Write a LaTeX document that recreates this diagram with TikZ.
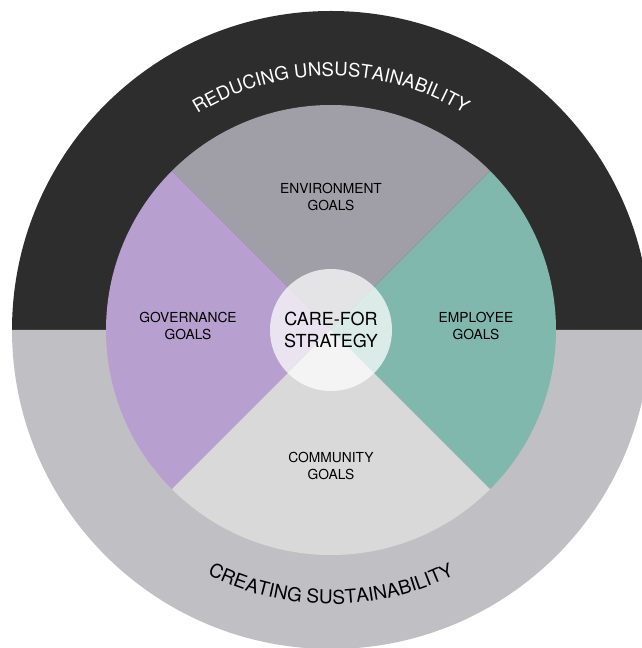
\documentclass[tikz,border=0pt]{standalone}
\usepackage{fontspec}
\setmainfont{TeX Gyre Heros}
\usetikzlibrary{decorations.text}

\definecolor{ringdark}{HTML}{2D2D2D}
\definecolor{ringlight}{HTML}{C0BFC4}
\definecolor{envfill}{HTML}{A09FA7}
\definecolor{govfill}{HTML}{B79FCF}
\definecolor{empfill}{HTML}{80B8AD}
\definecolor{comfill}{HTML}{D9D9D9}

\tikzset{
  goal/.style={align=center, font=\fontsize{13.8}{16.8}\selectfont, text=black},
  hub/.style={circle, minimum size=122pt, inner sep=0pt, fill=white, fill opacity=0.72,
              text opacity=1, align=center, font=\fontsize{18}{21.5}\selectfont},
}

\begin{document}
\begin{tikzpicture}[x=1pt, y=1pt]
  \useasboundingbox (0,0) rectangle (642,648);
  \clip (0,0) rectangle (642,648);

  % centre of the rings
  \coordinate (c) at (331,318);

  % outer ring: upper and lower halves
  \fill[ringdark] (c) ++(0:319) arc (0:180:319) -- cycle;
  \fill[ringlight] (c) ++(180:319) arc (180:360:319) -- cycle;

  % four goal sectors
  \fill[envfill] (c) -- ++(45:225) arc (45:135:225) -- cycle;
  \fill[govfill] (c) -- ++(135:225) arc (135:225:225) -- cycle;
  \fill[comfill] (c) -- ++(225:225) arc (225:315:225) -- cycle;
  \fill[empfill] (c) -- ++(315:225) arc (-45:45:225) -- cycle;

  % ring captions along the arcs
  \path[decorate, decoration={text along path, text align=center,
        text={|\fontsize{18.6}{18.6}\selectfont\color{white}|REDUCING UNSUSTAINABILITY}}]
    (c) ++(152:254) arc (152:28:254);
  \path[decorate, decoration={text along path, text align=center,
        text={|\fontsize{19}{19}\selectfont\color{black}|CREATING SUSTAINABILITY}}]
    (c) ++(208:274) arc (208:332:274);

  % goal labels
  \node[goal] (env) at (331,451) {ENVIRONMENT\\GOALS};
  \node[goal] (gov) at (188,322) {GOVERNANCE\\GOALS};
  \node[goal] (emp) at (476,322) {EMPLOYEE\\GOALS};
  \node[goal] (com) at (331,182) {COMMUNITY\\GOALS};

  % central hub
  \node[hub] (hubnode) at (c) {CARE-FOR\\STRATEGY};
\end{tikzpicture}
\end{document}
